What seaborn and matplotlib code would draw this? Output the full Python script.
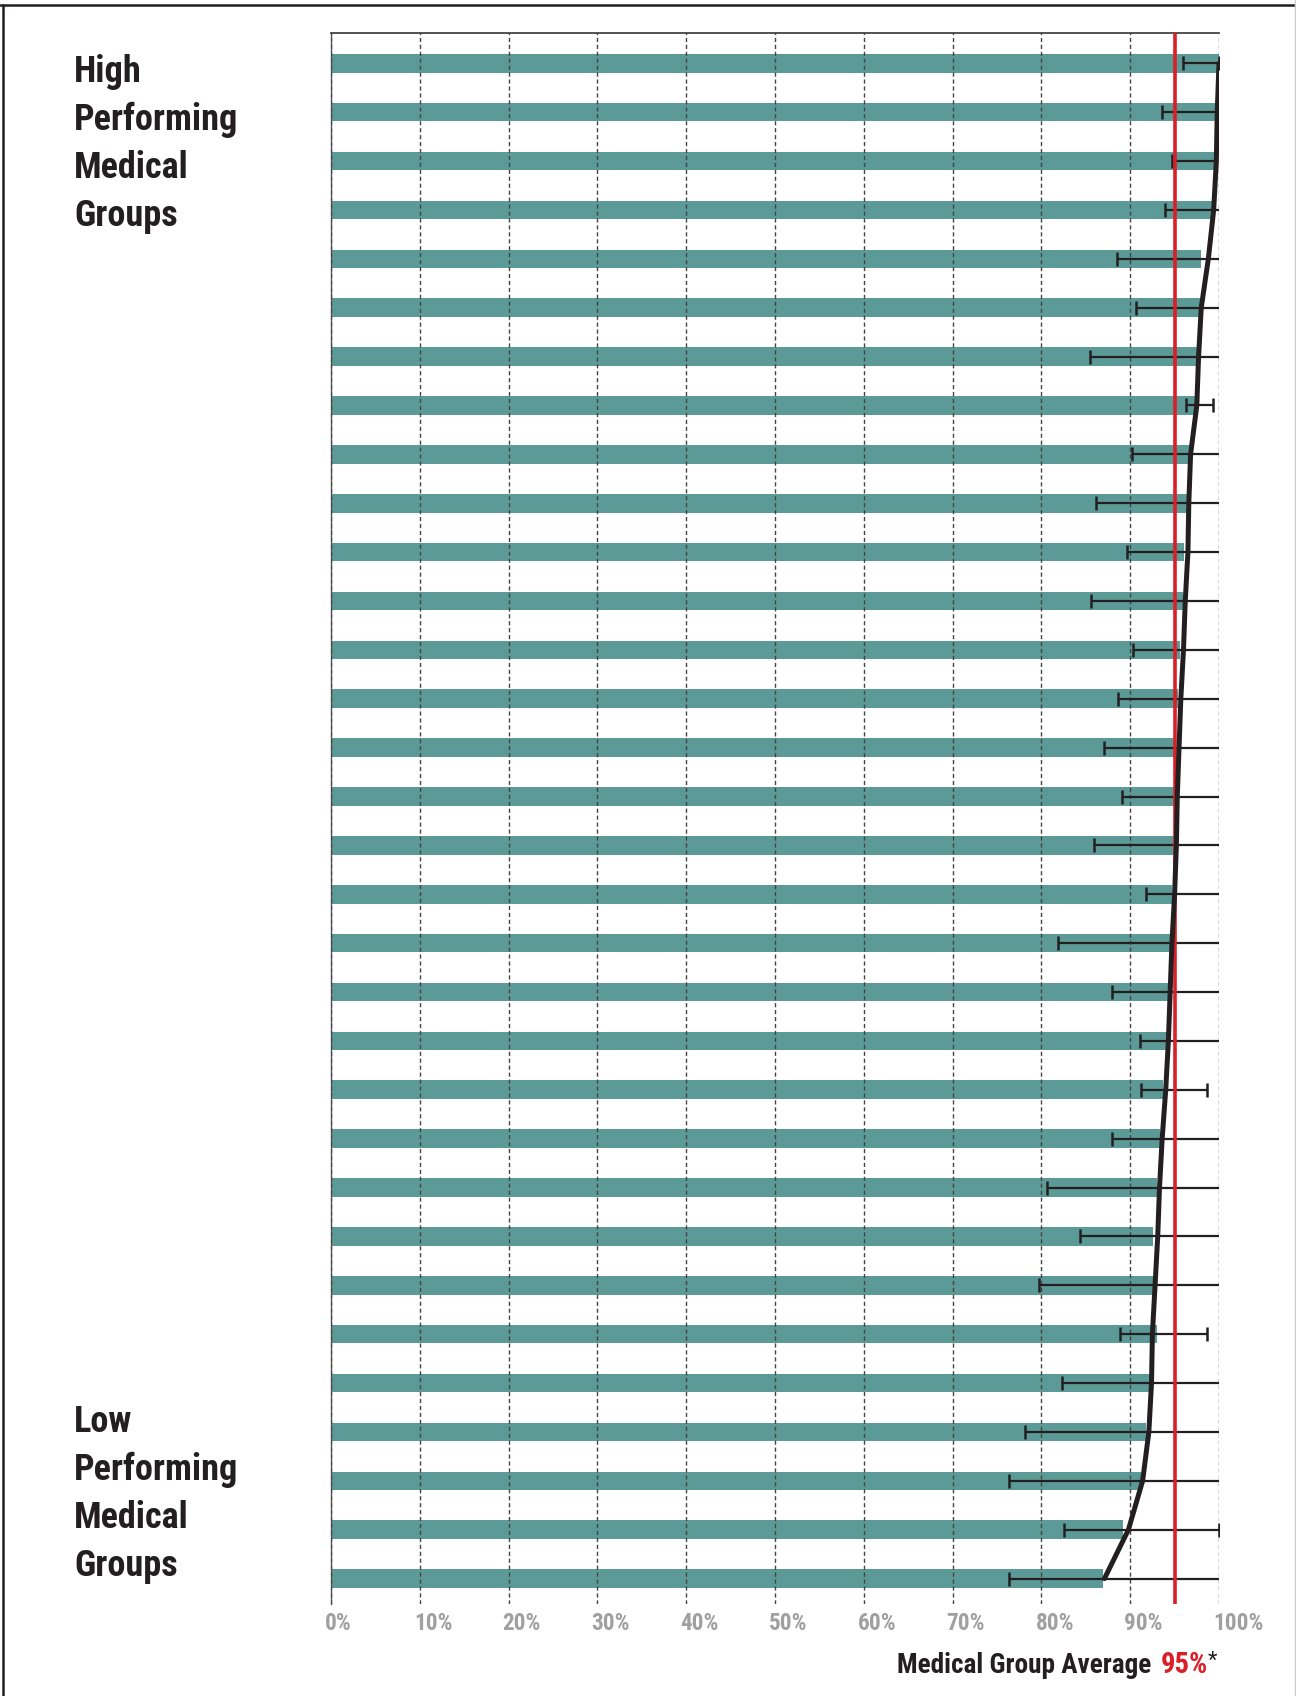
import numpy as np
import pandas as pd
import matplotlib
matplotlib.use("Agg")
import matplotlib.pyplot as plt
import seaborn as sns
from matplotlib import font_manager as fm
from matplotlib.lines import Line2D
from matplotlib.transforms import offset_copy

# medical groups ranked from high to low performing (percent)
groups = [str(i) for i in range(1, 33)]
rates = [100.0, 99.6, 99.4, 99.2, 98.0, 97.9, 97.5, 97.3, 96.7, 96.4, 96.1,
         95.9, 95.6, 95.4, 95.2, 95.0, 94.9, 94.7, 94.5, 94.4, 94.1, 93.7,
         93.4, 93.0, 92.6, 92.6, 93.0, 92.2, 91.8, 91.2, 89.2, 86.9]
ci_low = [96.0, 93.6, 94.7, 93.9, 88.5, 90.7, 85.5, 96.3, 90.2, 86.2, 89.6,
          85.6, 90.3, 88.6, 87.0, 89.1, 85.9, 91.8, 81.9, 88.0, 91.1, 91.2,
          88.0, 80.6, 84.4, 79.7, 88.9, 82.3, 78.2, 76.4, 82.6, 76.4]
# values past 100 run off the plot edge (no visible cap)
ci_high = [100.0, 99.8, 99.6, 100.5, 100.5, 100.5, 100.5, 99.3, 100.5, 100.5,
           100.5, 100.5, 100.5, 100.5, 100.5, 100.5, 100.5, 100.5, 100.5,
           100.5, 100.5, 98.7, 100.5, 100.5, 100.5, 100.5, 98.7, 100.5, 100.5,
           100.5, 100.0, 100.5]
trend = [100.0, 99.8, 99.7, 99.4, 98.8, 98.0, 97.7, 97.5, 96.8, 96.6, 96.5,
         96.2, 96.0, 95.7, 95.5, 95.3, 95.2, 95.0, 94.7, 94.5, 94.3, 94.0,
         93.6, 93.3, 93.1, 92.8, 92.5, 92.4, 92.1, 91.4, 89.8, 87.1]
group_average = 95
xticks = [0, 10, 20, 30, 40, 50, 60, 70, 80, 90, 100]
xlabels = [f"{t}%" for t in xticks]

TEAL = "#5b9a97"
DARK = "#231f20"
RED = "#da1f26"


def pick_narrow_font():
    """Find a condensed sans face, the original uses a narrow bold type."""
    fonts = fm.fontManager.ttflist
    names = {f.name for f in fonts}
    for cand in ["Liberation Sans Narrow", "Roboto Condensed",
                 "DejaVu Sans Condensed", "Noto Sans Condensed",
                 "Open Sans Condensed", "Arial Narrow"]:
        if cand in names:
            return cand, "normal"
    for fam in ["Roboto", "Noto Sans", "Open Sans", "DejaVu Sans", "Lato"]:
        for f in fonts:
            if f.name == fam and "condensed" in str(f.stretch):
                return fam, f.stretch
    return "Liberation Sans", "normal"


sns.set_style("white")
font_name, font_stretch = pick_narrow_font()
plt.rcParams["font.family"] = [font_name, "DejaVu Sans"]
plt.rcParams["font.stretch"] = font_stretch

W, H = 1296, 1696
fig = plt.figure(figsize=(W / 100, H / 100), dpi=100)
ax = fig.add_axes([331 / W, 1 - 1604 / H, (1219 - 331) / W, (1604 - 33) / H])

df = pd.DataFrame({"group": groups, "rate": rates})
sns.barplot(data=df, x="rate", y="group", orient="h", color=TEAL,
            saturation=1, width=0.38, errorbar=None, linewidth=0, ax=ax,
            zorder=1)

ypos = np.arange(len(groups))
vals = np.array(rates)
xerr = [vals - np.array(ci_low), np.array(ci_high) - vals]
ax.errorbar(vals, ypos, xerr=xerr, fmt="none", ecolor=DARK, elinewidth=1.6,
            capsize=5, capthick=1.8, zorder=3)
ax.axvline(group_average, color=RED, lw=2.6, zorder=4)
ax.plot(trend, ypos, color=DARK, lw=3.6, zorder=5, solid_joinstyle="round")

# the first bar sits a little low in its slot in the original
y_top, y_bot = -0.62, len(groups) - 0.48
ax.set_xlim(0, 100)
ax.set_ylim(y_bot, y_top)
ax.set_xlabel("")
ax.set_ylabel("")

# dashed gridlines sit on top of the bars
ax.set_xticks(xticks)
ax.set_xticklabels([])
ax.tick_params(axis="x", length=0)
ax.grid(axis="x", color="#444444", lw=1.0, linestyle=(0, (3, 2)))
ax.grid(axis="y", visible=False)
ax.set_axisbelow(False)

ax.set_yticks(np.linspace(y_top, y_bot, len(groups) + 1))
ax.set_yticklabels([])
ax.tick_params(axis="y", length=12, width=1, color="#333333", direction="out")

for side in ["right", "bottom"]:
    ax.spines[side].set_visible(False)
ax.spines["left"].set_color("#555555")
ax.spines["left"].set_linewidth(1.0)
ax.spines["top"].set_color("#333333")
ax.spines["top"].set_linewidth(1.2)

renderer = fig.canvas.get_renderer()


def fit_size(texts, target_w, max_size):
    """Scale font size so the widest text is target_w pixels (capped)."""
    w = max(t.get_window_extent(renderer).width for t in texts)
    size = texts[0].get_fontsize()
    new = min(max_size, size * target_w / w)
    for t in texts:
        t.set_fontsize(new * t.get_fontsize() / size)


lab_tr = offset_copy(ax.get_xaxis_transform(), fig=fig, x=-6, y=-19,
                     units="dots")
tick_texts = []
for t, lab in zip(xticks, xlabels):
    tick_texts.append(ax.text(t, 0, lab, transform=lab_tr, ha="left",
                              va="center", fontsize=16, fontweight="bold",
                              color="#a0a0a0"))
fit_size(tick_texts, 50, 19)

# side labels
side_texts = []
for i, line in enumerate(["High", "Performing", "Medical", "Groups"]):
    side_texts.append(fig.text(74 / W, 1 - (82 + 48 * i) / H, line,
                               fontsize=26.5, fontweight="bold", color=DARK,
                               va="baseline"))
for i, line in enumerate(["Low", "Performing", "Medical", "Groups"]):
    side_texts.append(fig.text(74 / W, 1 - (1432 + 48 * i) / H, line,
                               fontsize=26.5, fontweight="bold", color=DARK,
                               va="baseline"))
fit_size(side_texts, 164, 27)

t1 = fig.text(897 / W, 1 - 1673 / H, "Medical Group Average", fontsize=19,
              fontweight="bold", color=DARK, va="baseline")
fit_size([t1], 255, 22)
t2 = ax.annotate(f"{group_average}%", xy=(1, 0), xycoords=t1,
                 xytext=(10, 0), textcoords="offset pixels", ha="left",
                 va="bottom", fontsize=t1.get_fontsize() * 1.05,
                 fontweight="bold", color=RED, annotation_clip=False)
ax.annotate("*", xy=(1, 1), xycoords=t2, xytext=(-1, 0),
            textcoords="offset pixels", ha="left", va="top",
            fontsize=t1.get_fontsize() * 0.8, color=DARK,
            annotation_clip=False)

# frame around the figure
fig.add_artist(Line2D([0, 1], [1 - 5 / H] * 2, transform=fig.transFigure,
                      color=DARK, lw=1.8))
fig.add_artist(Line2D([3 / W] * 2, [0, 1 - 5 / H], transform=fig.transFigure,
                      color=DARK, lw=1.8))
fig.add_artist(Line2D([1295 / W] * 2, [0, 1], transform=fig.transFigure,
                      color="#cccccc", lw=1.0))

fig.savefig("out.png", dpi=100)
